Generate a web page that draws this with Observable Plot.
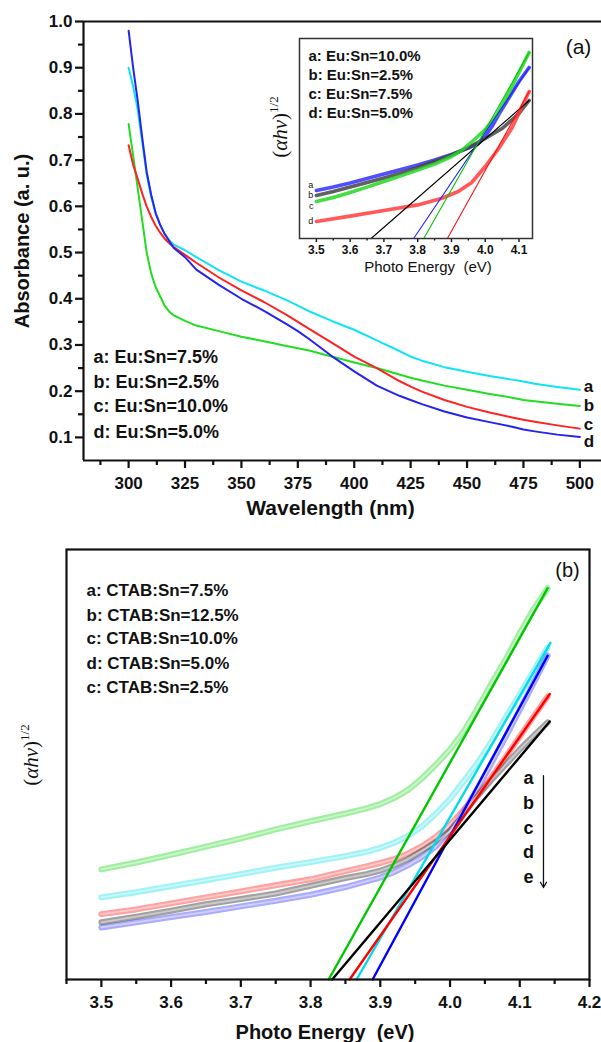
<!DOCTYPE html>
<html><head><meta charset="utf-8">
<script src="https://cdn.jsdelivr.net/npm/d3@7"></script>
<script src="https://cdn.jsdelivr.net/npm/@observablehq/plot@0.6"></script>
<style>
body{margin:0;background:#fff;}
#wrap{position:relative;width:601px;height:1042px;overflow:hidden;background:#fff;}
#wrap svg{position:absolute;overflow:visible;}
</style></head><body><div id="wrap"></div>
<script>
// ---------- Panel (a): absorbance spectra ----------
const wavelength = [300,302,304,306,308,310,312,314,316,318,320,325,330,340,350,360,370,375,380,390,400,410,420,425,430,440,450,460,470,475,480,490,500];
const absA = [0.90,0.86,0.81,0.74,0.67,0.62,0.585,0.56,0.54,0.527,0.517,0.505,0.49,0.462,0.437,0.418,0.397,0.385,0.373,0.352,0.333,0.31,0.287,0.275,0.266,0.252,0.242,0.233,0.225,0.221,0.216,0.209,0.203];
const absB = [0.778,0.71,0.64,0.57,0.50,0.455,0.425,0.405,0.385,0.372,0.364,0.352,0.342,0.33,0.318,0.308,0.298,0.293,0.288,0.275,0.262,0.25,0.236,0.229,0.223,0.212,0.203,0.194,0.186,0.181,0.178,0.173,0.168];
const absC = [0.732,0.69,0.66,0.628,0.60,0.577,0.558,0.543,0.53,0.52,0.512,0.495,0.478,0.446,0.418,0.393,0.365,0.35,0.335,0.305,0.275,0.25,0.222,0.21,0.199,0.181,0.166,0.154,0.143,0.138,0.134,0.126,0.119];
const absD = [0.98,0.90,0.83,0.75,0.675,0.625,0.585,0.56,0.54,0.525,0.51,0.49,0.463,0.43,0.40,0.374,0.345,0.33,0.313,0.276,0.243,0.212,0.19,0.181,0.172,0.156,0.143,0.133,0.123,0.117,0.113,0.106,0.101];
const seriesA = ["a","b","c","d"];
const legendA = ["a: Eu:Sn=7.5%","b: Eu:Sn=2.5%","c: Eu:Sn=10.0%","d: Eu:Sn=5.0%"];
const yTicksA = [0.1,0.2,0.3,0.4,0.5,0.6,0.7,0.8,0.9,1.0];
const yMinorA = [0.15,0.25,0.35,0.45,0.55,0.65,0.75,0.85,0.95];
const xTicksA = [300,325,350,375,400,425,450,475,500];
const xMinorA = [287.5,312.5,337.5,362.5,387.5,412.5,437.5,462.5,487.5];

// ---------- Inset of (a): Tauc plot ----------
const insetSeries = ["a","b","c","d"];
const insetLegend = ["a: Eu:Sn=10.0%","b: Eu:Sn=2.5%","c: Eu:Sn=7.5%","d: Eu:Sn=5.0%"];
const insetEnergyA = [3.5,3.55,3.6,3.65,3.7,3.75,3.8,3.85,3.9,3.95,3.98,4.0,4.02,4.04,4.06,4.08,4.1,4.13];
const insetValueA  = [0.24,0.258,0.278,0.3,0.323,0.345,0.368,0.393,0.42,0.452,0.475,0.51,0.56,0.62,0.675,0.73,0.785,0.855];
const insetEnergyB = [3.5,3.55,3.6,3.65,3.7,3.75,3.8,3.85,3.9,3.95,4.0,4.05,4.1,4.13];
const insetValueB  = [0.215,0.235,0.258,0.28,0.303,0.328,0.355,0.385,0.418,0.455,0.5,0.55,0.625,0.69];
const insetEnergyC = [3.5,3.55,3.6,3.65,3.7,3.75,3.8,3.85,3.9,3.93,3.965,4.0,4.035,4.07,4.1,4.13];
const insetValueC  = [0.185,0.205,0.23,0.257,0.285,0.313,0.342,0.372,0.41,0.44,0.49,0.545,0.62,0.73,0.83,0.93];
const insetEnergyD = [3.5,3.6,3.7,3.8,3.87,3.92,3.96,4.0,4.04,4.08,4.13];
const insetValueD  = [0.085,0.112,0.14,0.168,0.2,0.235,0.28,0.36,0.45,0.555,0.735];
const insetFitStartE = [3.788,3.662,3.818,3.888];
const insetFitEndE = [4.13,4.13,4.13,4.13];
const insetFitEndV = [0.855,0.69,0.93,0.735];
const insetXTicks = [3.5,3.6,3.7,3.8,3.9,4.0,4.1];
const insetXMinor = [3.55,3.65,3.75,3.85,3.95,4.05];

// ---------- Panel (b): Tauc plot, CTAB series ----------
const seriesB = ["a","b","c","d","e"];
const legendB = ["a: CTAB:Sn=7.5%","b: CTAB:Sn=12.5%","c: CTAB:Sn=10.0%","d: CTAB:Sn=5.0%","c: CTAB:Sn=2.5%"];
const energyB = [3.5,3.55,3.6,3.65,3.7,3.75,3.8,3.85,3.88,3.9,3.92,3.94,3.96,3.98,4.0,4.02,4.04,4.06,4.08,4.1,4.12,4.14];
const bandA = [0.256,0.272,0.29,0.309,0.328,0.349,0.368,0.386,0.398,0.408,0.422,0.441,0.468,0.5,0.535,0.578,0.632,0.69,0.745,0.806,0.862,0.91];
const bandB = [0.191,0.203,0.217,0.231,0.245,0.26,0.273,0.287,0.297,0.306,0.318,0.334,0.356,0.386,0.42,0.462,0.505,0.555,0.61,0.663,0.718,0.772];
const bandC = [0.121,0.133,0.145,0.157,0.17,0.183,0.197,0.215,0.228,0.237,0.25,0.266,0.285,0.31,0.345,0.392,0.445,0.505,0.565,0.627,0.69,0.753];
const bandD = [0.152,0.163,0.177,0.191,0.205,0.219,0.233,0.252,0.263,0.271,0.28,0.293,0.31,0.332,0.36,0.395,0.43,0.472,0.518,0.565,0.612,0.658];
const bandE = [0.133,0.146,0.16,0.175,0.187,0.2,0.218,0.236,0.245,0.253,0.265,0.28,0.3,0.32,0.345,0.388,0.428,0.465,0.5,0.535,0.567,0.598];
const fitStartE = [3.826,3.866,3.889,3.856,3.831];
const fitEndE = [4.14,4.144,4.14,4.143,4.143];
const fitEndV = [0.91,0.783,0.753,0.664,0.60];
const xTicksB = [3.5,3.6,3.7,3.8,3.9,4.0,4.1,4.2];
const xMinorB = [3.45,3.55,3.65,3.75,3.85,3.95,4.05,4.15];
const arrowLetters = ["a","b","c","d","e"];
const arrowPos = {x: 4.134, y1: 0.474, y2: 0.214};

// ---------- styles ----------
const font = "'Liberation Sans', Arial, Helvetica, sans-serif";
const colorsA = ["#10e4f4","#22dd22","#ff2222","#2424ee"];
const insetColors = ["#3030ff","#444444","#22d822","#ff3c3c"];
const insetFitColors = ["#2020ff","#000000","#00c800","#ff1010"];
const bandColors = ["#44dd44","#44e6ee","#5555ff","#ff4444","#444444"];
const fitColors = ["#00c800","#00dcec","#0000ff","#ff0000","#000000"];
const ink = "#111";

const wrap = document.getElementById("wrap");
function place(svg, left, top) {
  svg.style.left = left + "px"; svg.style.top = top + "px";
  wrap.appendChild(svg);
}
function addTaucLabel(svg, x, y, size) {
  const t = d3.select(svg).append("text")
    .attr("transform", `translate(${x},${y}) rotate(-90)`)
    .attr("text-anchor", "middle")
    .attr("font-family", "'Liberation Serif', 'Times New Roman', serif")
    .attr("font-weight", "normal")
    .attr("font-size", size)
    .attr("fill", ink);
  t.append("tspan").text("(");
  t.append("tspan").attr("font-style", "italic").text("αhν");
  t.append("tspan").text(")");
  t.append("tspan").attr("font-size", Math.round(size * 0.62)).attr("dy", -size * 0.45).text("1/2");
}
const txt = (s, o) => Plot.text([s], {text: d => d, lineAnchor: "middle", ...o});
// minor ticks: an axis with its labels switched off (fill "none")
const minorX = (vals, size, sw) => Plot.axisX(vals, {tickSize: size, strokeWidth: sw, stroke: ink, fill: "none", label: null});
const minorY = (vals, size, sw) => Plot.axisY(vals, {tickSize: size, strokeWidth: sw, stroke: ink, fill: "none", label: null});

// ---------- Panel (a) ----------
const absAll = [absA, absB, absC, absD];
const rowsA = [];
seriesA.forEach((s, k) => wavelength.forEach((w, i) => rowsA.push({s, w, v: absAll[k][i]})));
const endsA = seriesA.map((s, k) => ({s, w: wavelength[wavelength.length - 1], v: absAll[k][wavelength.length - 1]}));
const labelDyA = [-3, 0, -4, 5];
const legendDyA = [336, 361, 385, 411];
const xDomA = [280, 509.6], yDomA = [0.05, 1.0];

const plotA = Plot.plot({
  width: 601, height: 530,
  marginLeft: 83, marginRight: 0, marginTop: 21, marginBottom: 70,
  x: {domain: xDomA, label: null},
  y: {domain: yDomA, label: null},
  style: {fontFamily: font, fontWeight: "bold", fontSize: "17px", background: "transparent", color: ink},
  marks: [
    Plot.axisY(yTicksA, {tickSize: 8, tickPadding: 3, strokeWidth: 2.2, stroke: ink, tickFormat: d3.format(".1f"), label: null}),
    minorY(yMinorA, 5, 2.2),
    Plot.axisX(xTicksA, {tickSize: 8, tickPadding: 8, strokeWidth: 2.2, stroke: ink, tickFormat: d3.format("d"), label: null}),
    minorX(xMinorA, 5, 2.2),
    Plot.ruleX([xDomA[0]], {stroke: ink, strokeWidth: 2.2}),
    Plot.ruleY(yDomA, {stroke: ink, strokeWidth: 2.2}),
    ...seriesA.map((s, k) => Plot.line(rowsA.filter(d => d.s === s), {x: "w", y: "v", stroke: colorsA[k], strokeWidth: 2})),
    ...seriesA.map((s, k) => Plot.text([endsA[k]], {x: "w", y: "v", text: "s", dx: 4, dy: labelDyA[k], textAnchor: "start", lineAnchor: "middle", fontSize: 17, fontWeight: "bold"})),
    ...legendA.map((t, i) => txt(t, {frameAnchor: "top-left", dx: 10, dy: legendDyA[i], textAnchor: "start", fontSize: 18, fontWeight: "bold"})),
    txt("(a)", {frameAnchor: "top-right", dx: -23, dy: 26, textAnchor: "middle", fontSize: 21, fontWeight: "normal"}),
    txt("Wavelength (nm)", {frameAnchor: "bottom", dx: -12, dy: 48, textAnchor: "middle", fontSize: 21, fontWeight: "bold"}),
    txt("Absorbance (a. u.)", {frameAnchor: "left", dx: -61, rotate: -90, textAnchor: "middle", fontSize: 20, fontWeight: "bold"})
  ]
});
place(plotA, 0, 0);

// ---------- Inset ----------
const insetE = [insetEnergyA, insetEnergyB, insetEnergyC, insetEnergyD];
const insetV = [insetValueA, insetValueB, insetValueC, insetValueD];
const insetRows = insetSeries.map((s, k) => insetE[k].map((e, i) => ({s, e, v: insetV[k][i]})));
const insetFits = insetSeries.map((s, k) => [{e: insetFitStartE[k], v: 0}, {e: insetFitEndE[k], v: insetFitEndV[k]}]);
const insetLabelDy = [-5, 0, 5, 0];
const insetLegendDy = [18, 37, 56, 75];

const plotI = Plot.plot({
  width: 300, height: 260,
  marginLeft: 49, marginRight: 18, marginTop: 18, marginBottom: 42,
  x: {domain: [3.45, 4.14], label: null},
  y: {domain: [0, 1], axis: null, label: null},
  style: {fontFamily: font, fontWeight: "bold", fontSize: "12px", background: "transparent", color: ink},
  marks: [
    Plot.axisX(insetXTicks, {tickSize: 4, tickPadding: 3, strokeWidth: 1.4, stroke: ink, tickFormat: d3.format(".1f"), label: null}),
    minorX(insetXMinor, 2.5, 1.4),
    ...insetRows.map((r, k) => Plot.line(r, {x: "e", y: "v", stroke: insetColors[k], strokeWidth: 3.6, strokeOpacity: 0.85})),
    ...insetFits.map((r, k) => Plot.line(r, {x: "e", y: "v", stroke: insetFitColors[k], strokeWidth: 1.1})),
    Plot.frame({stroke: "#333", strokeWidth: 1.5}),
    ...insetRows.map((r, k) => Plot.text([r[0]], {x: "e", y: "v", text: "s", dx: -3, dy: insetLabelDy[k], textAnchor: "end", lineAnchor: "middle", fontSize: 9, fontWeight: "normal"})),
    ...insetLegend.map((t, i) => txt(t, {frameAnchor: "top-left", dx: 9, dy: insetLegendDy[i], textAnchor: "start", fontSize: 15, fontWeight: "bold"})),
    txt("Photo Energy  (eV)", {frameAnchor: "bottom", dx: 12, dy: 29, textAnchor: "middle", fontSize: 15, fontWeight: "normal"})
  ]
});
addTaucLabel(plotI, 37, 107, 21);
place(plotI, 250, 20);

// ---------- Panel (b) ----------
const bandAll = [bandA, bandB, bandC, bandD, bandE];
const rowsB = seriesB.map((s, k) => energyB.map((e, i) => ({s, e, v: bandAll[k][i]})));
const fitsB = seriesB.map((s, k) => [{e: fitStartE[k], v: 0}, {e: fitEndE[k], v: fitEndV[k]}]);
const letterDy = [229, 254, 279, 303, 328];
const legendDyB = [41, 66, 89, 114, 138];

const plotB = Plot.plot({
  width: 601, height: 512,
  marginLeft: 66, marginRight: 12, marginTop: 19, marginBottom: 63,
  x: {domain: [3.45, 4.2], label: null},
  y: {domain: [0, 1], axis: null, label: null},
  style: {fontFamily: font, fontWeight: "bold", fontSize: "17px", background: "transparent", color: ink},
  marks: [
    Plot.axisX(xTicksB, {tickSize: 8, tickPadding: 8, strokeWidth: 2.2, stroke: ink, tickFormat: d3.format(".1f"), label: null}),
    minorX(xMinorB, 5, 2.2),
    ...rowsB.map((r, k) => Plot.line(r, {x: "e", y: "v", stroke: bandColors[k], strokeWidth: 6, strokeOpacity: 0.5})),
    ...rowsB.map((r, k) => Plot.line(r, {x: "e", y: "v", stroke: "white", strokeWidth: 1.8, strokeOpacity: 0.45})),
    ...fitsB.map((r, k) => Plot.line(r, {x: "e", y: "v", stroke: fitColors[k], strokeWidth: 2.4})),
    Plot.frame({stroke: ink, strokeWidth: 2.2}),
    ...legendB.map((t, i) => txt(t, {frameAnchor: "top-left", dx: 20, dy: legendDyB[i], textAnchor: "start", fontSize: 17, fontWeight: "bold"})),
    txt("(b)", {frameAnchor: "top-right", dx: -22, dy: 21, textAnchor: "middle", fontSize: 20, fontWeight: "normal"}),
    ...arrowLetters.map((t, i) => txt(t, {frameAnchor: "top-right", dx: -61, dy: letterDy[i], textAnchor: "middle", fontSize: 18, fontWeight: "bold"})),
    Plot.arrow([arrowPos], {x1: "x", x2: "x", y1: "y1", y2: "y2", stroke: ink, strokeWidth: 1.3, headLength: 7}),
    txt("Photo Energy  (eV)", {frameAnchor: "bottom", dx: -3, dy: 53, textAnchor: "middle", fontSize: 20, fontWeight: "bold"})
  ]
});
addTaucLabel(plotB, 38, 225, 21);
place(plotB, 0, 530);
</script>
</body></html>
